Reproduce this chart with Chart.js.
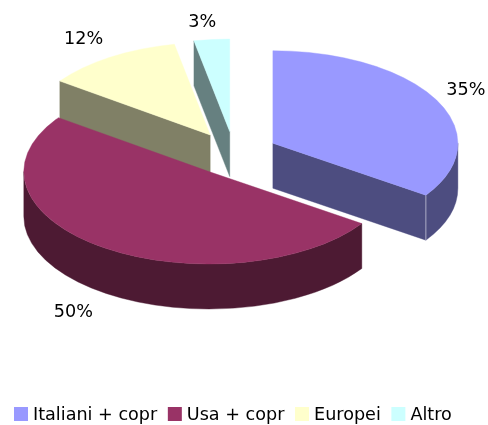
<!DOCTYPE html>
<html>
<head>
<meta charset="utf-8">
<style>html,body{margin:0;padding:0;background:#fff}canvas{display:block}</style>
<script src="https://cdn.jsdelivr.net/npm/chart.js@4"></script>
</head>
<body>
<canvas id="c" width="488" height="425"></canvas>
<script>
const categories = ["Italiani + copr", "Usa + copr", "Europei", "Altro"];
const values = [34.5, 50.4, 12, 3.1];
const topColors = ["#9999FF", "#993366", "#FFFFCC", "#CCFFFF"];
const sideColors = ["#4D4D80", "#4D1A33", "#808066", "#668080"];

const pie3d = {
  id: "pie3d",
  beforeDatasetsDraw(chart, args, o) {
    const ctx = chart.ctx;
    const arcs = chart.getDatasetMeta(0).data;
    const total = values.reduce((a, b) => a + b, 0);
    const geom = arcs.map(a => {
      const p = a.getProps(["x", "y", "startAngle", "endAngle", "outerRadius"], true);
      const mid = (p.startAngle + p.endAngle) / 2;
      return {
        s: p.startAngle, e: p.endAngle, mid, r: p.outerRadius,
        cx: p.x + Math.cos(mid) * o.explode,
        cy: p.y + Math.sin(mid) * o.explode * o.squash
      };
    });
    const pt = (g, t) => [g.cx + Math.cos(t) * g.r, g.cy + Math.sin(t) * g.r * o.squash];
    const fillBoth = (color) => {
      ctx.fillStyle = color; ctx.strokeStyle = color; ctx.lineWidth = 0.4;
      ctx.fill(); ctx.stroke();
    };
    o.order.forEach(i => {
      const g = geom[i];
      const a0 = Math.max(g.s, 0), a1 = Math.min(g.e, Math.PI);
      [[g.s, -Math.cos(g.s)], [g.e, Math.cos(g.e)]].forEach(([t, vis]) => {
        if (vis > 1e-6) {
          const q = pt(g, t);
          ctx.beginPath();
          ctx.moveTo(g.cx, g.cy);
          ctx.lineTo(q[0], q[1]);
          ctx.lineTo(q[0], q[1] + o.depth);
          ctx.lineTo(g.cx, g.cy + o.depth);
          ctx.closePath();
          fillBoth(sideColors[i]);
        }
      });
      if (a1 > a0) {
        ctx.beginPath();
        ctx.ellipse(g.cx, g.cy, g.r, g.r * o.squash, 0, a0, a1);
        ctx.ellipse(g.cx, g.cy + o.depth, g.r, g.r * o.squash, 0, a1, a0, true);
        ctx.closePath();
        fillBoth(sideColors[i]);
        if (Math.cos(g.e) > 1e-6 && g.e < Math.PI) {
          const q = pt(g, g.e);
          ctx.beginPath();
          ctx.moveTo(q[0], q[1]);
          ctx.lineTo(q[0], q[1] + o.depth);
          ctx.strokeStyle = o.seam;
          ctx.lineWidth = 1;
          ctx.stroke();
        }
      }
      ctx.beginPath();
      ctx.moveTo(g.cx, g.cy);
      ctx.ellipse(g.cx, g.cy, g.r, g.r * o.squash, 0, g.s, g.e);
      ctx.closePath();
      fillBoth(topColors[i]);
    });
    ctx.fillStyle = o.textColor;
    ctx.font = o.font;
    ctx.textAlign = "center";
    ctx.textBaseline = "middle";
    geom.forEach((g, i) => {
      const q = pt(g, g.mid);
      const txt = Math.round(values[i] / total * 100) + "%";
      ctx.fillText(txt, q[0] + o.labelNudge[i][0], q[1] + o.labelNudge[i][1]);
    });
    ctx.textAlign = "left";
    let x = o.legendX;
    categories.forEach((c, i) => {
      ctx.fillStyle = topColors[i];
      ctx.fillRect(x, o.legendY - o.box / 2, o.box, o.box);
      ctx.fillStyle = o.textColor;
      ctx.fillText(c, x + o.box + o.boxGap, o.legendY + 1);
      x += o.box + o.boxGap + ctx.measureText(c).width + o.itemGap;
    });
    return false;
  }
};

new Chart(document.getElementById("c"), {
  type: "pie",
  data: {
    labels: categories,
    datasets: [{ data: values, backgroundColor: topColors, borderWidth: 0 }]
  },
  options: {
    responsive: false,
    animation: false,
    radius: 185,
    layout: { padding: { left: 0, top: 0, right: 20, bottom: 118 } },
    plugins: {
      legend: { display: false },
      tooltip: { enabled: false },
      pie3d: {
        explode: 44, squash: 0.5, depth: 45,
        order: [3, 2, 0, 1],
        font: "17.6px 'DejaVu Sans'", textColor: "#000", seam: "rgba(255,255,255,0.5)",
        labelNudge: [[29.5, -9.5], [-29.5, 65.5], [-26.5, -17.5], [-9.5, -17.5]],
        legendX: 14, legendY: 414, box: 14, boxGap: 5, itemGap: 10.6
      }
    }
  },
  plugins: [pie3d]
});
</script>
</body>
</html>
